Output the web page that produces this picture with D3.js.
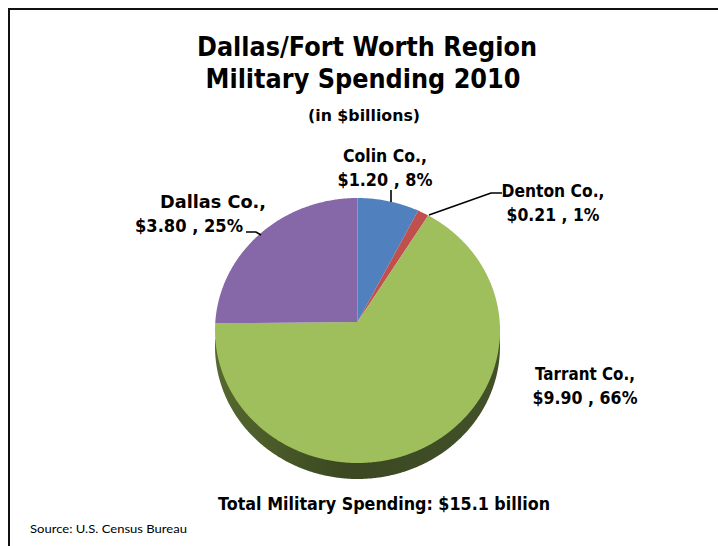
<!DOCTYPE html>
<html>
<head>
<meta charset="utf-8">
<script src="https://cdn.jsdelivr.net/npm/d3@7"></script>
<style>
  html, body { margin: 0; padding: 0; background: #fff; }
  svg { display: block; }
  text { font-family: Lato, "Open Sans", "DejaVu Sans", sans-serif; fill: #000; }
  text.heavy { font-family: "DejaVu Sans", sans-serif; font-weight: 700; }
</style>
</head>
<body>
<svg id="chart" width="718" height="546"></svg>
<script>
// Military spending by county, in $ billions
const counties = ["Colin Co.", "Denton Co.", "Tarrant Co.", "Dallas Co."];
const spending = [1.20, 0.21, 9.90, 3.80];
const sliceColors = ["#5081be", "#c0504d", "#9ebf5c", "#8667a7"];

const titleLines = ["Dallas/Fort Worth Region", "Military Spending 2010"];
const subtitle = "(in $billions)";
const sourceNote = "Source:  U.S. Census Bureau";

const W = 718, H = 546;
const svg = d3.select("#chart");

// frame line along the top and left edges
svg.append("path")
  .attr("d", `M9,${H} L9,9 L${W},9`)
  .attr("fill", "none")
  .attr("stroke", "#111")
  .attr("stroke-width", 2);

// titles
const title = svg.append("g");
title.append("text").attr("class", "heavy").attr("x", 367).attr("y", 56).attr("text-anchor", "middle")
  .attr("font-size", 27).attr("textLength", 340).attr("lengthAdjust", "spacingAndGlyphs")
  .text(titleLines[0]);
title.append("text").attr("class", "heavy").attr("x", 363).attr("y", 88).attr("text-anchor", "middle")
  .attr("font-size", 27).attr("textLength", 315).attr("lengthAdjust", "spacingAndGlyphs")
  .text(titleLines[1]);
title.append("text").attr("class", "heavy").attr("x", 364).attr("y", 121).attr("text-anchor", "middle")
  .attr("font-size", 15).attr("textLength", 112).attr("lengthAdjust", "spacingAndGlyphs")
  .text(subtitle);

// tilted pie: elliptical top face, apex slightly above the ellipse centre
const cx = 357.5, cy = 330.5, rx = 142.5, ry = 132.5;
const apexY = 322, depth = 16;

// point where a ray from the apex at angle a (clockwise from 12 o'clock) meets the rim
function rim(a, shift = 0) {
  const dx = Math.sin(a), dy = -Math.cos(a);
  const oy = apexY - cy;
  const A = dx * dx / (rx * rx) + dy * dy / (ry * ry);
  const B = 2 * oy * dy / (ry * ry);
  const C = oy * oy / (ry * ry) - 1;
  const t = (-B + Math.sqrt(B * B - 4 * A * C)) / (2 * A);
  return [cx + t * dx, apexY + t * dy + shift];
}

function slicePath(a0, a1, shift = 0) {
  const n = Math.max(4, Math.ceil((a1 - a0) / 0.01));
  const pts = [[cx, apexY + shift]];
  for (let i = 0; i <= n; i++) pts.push(rim(a0 + (a1 - a0) * i / n, shift));
  return d3.line()(pts) + "Z";
}

const defs = svg.append("defs");
const sideGrad = defs.append("linearGradient").attr("id", "side")
  .attr("x1", 0).attr("x2", 1).attr("y1", 0).attr("y2", 0);
sideGrad.append("stop").attr("offset", "0%").attr("stop-color", "#56692f");
sideGrad.append("stop").attr("offset", "45%").attr("stop-color", "#3b4821");
sideGrad.append("stop").attr("offset", "100%").attr("stop-color", "#42512a");

const pie = d3.pie().sort(null).startAngle(0).endAngle(2 * Math.PI);
const arcs = pie(spending);

// visible side wall (lower rim) of the pie
const tarrant = arcs[2];
svg.append("path")
  .attr("d", slicePath(tarrant.startAngle, tarrant.endAngle, depth))
  .attr("fill", "url(#side)");

// top face slices
svg.append("g").selectAll("path")
  .data(arcs)
  .join("path")
  .attr("d", d => slicePath(d.startAngle, d.endAngle))
  .attr("fill", (d, i) => sliceColors[i]);

// data labels
const total = d3.sum(spending);
const pct = v => Math.round(v / total * 100) + "%";
const labelPos = [
  { x: 385, y: 162, w1: 84, w2: 95 },
  { x: 553, y: 197, w1: 103, w2: 93 },
  { x: 585, y: 380, w1: 100, w2: 105 },
  { x: 213, y: 208, w1: 106, w2: 108, x2: 189 }
];
const labels = svg.append("g").attr("font-size", 17);
counties.forEach((c, i) => {
  const p = labelPos[i];
  labels.append("text").attr("class", "heavy").attr("x", p.x).attr("y", p.y).attr("text-anchor", "middle")
    .attr("textLength", p.w1).attr("lengthAdjust", "spacingAndGlyphs")
    .text(c + ",");
  labels.append("text").attr("class", "heavy").attr("x", p.x2 || p.x).attr("y", p.y + 24).attr("text-anchor", "middle")
    .attr("textLength", p.w2).attr("lengthAdjust", "spacingAndGlyphs")
    .text("$" + spending[i].toFixed(2) + " , " + pct(spending[i]));
});

// leader lines
const leaders = svg.append("g").attr("fill", "none").attr("stroke", "#000").attr("stroke-width", 1.6);
leaders.append("path").attr("d", "M391,190 L391,202");
leaders.append("path").attr("d", "M429,215 L491,193 L502,193");
leaders.append("path").attr("d", "M246,232 L256,232 L261,235");

// footer
svg.append("text").attr("class", "heavy").attr("x", 384).attr("y", 510).attr("text-anchor", "middle")
  .attr("font-size", 17)
  .attr("textLength", 332).attr("lengthAdjust", "spacingAndGlyphs")
  .text("Total Military Spending:  $" + total.toFixed(1) + " billion");
svg.append("text").attr("x", 30).attr("y", 533)
  .attr("font-size", 12).attr("textLength", 157).attr("lengthAdjust", "spacingAndGlyphs")
  .text(sourceNote);
</script>
</body>
</html>
